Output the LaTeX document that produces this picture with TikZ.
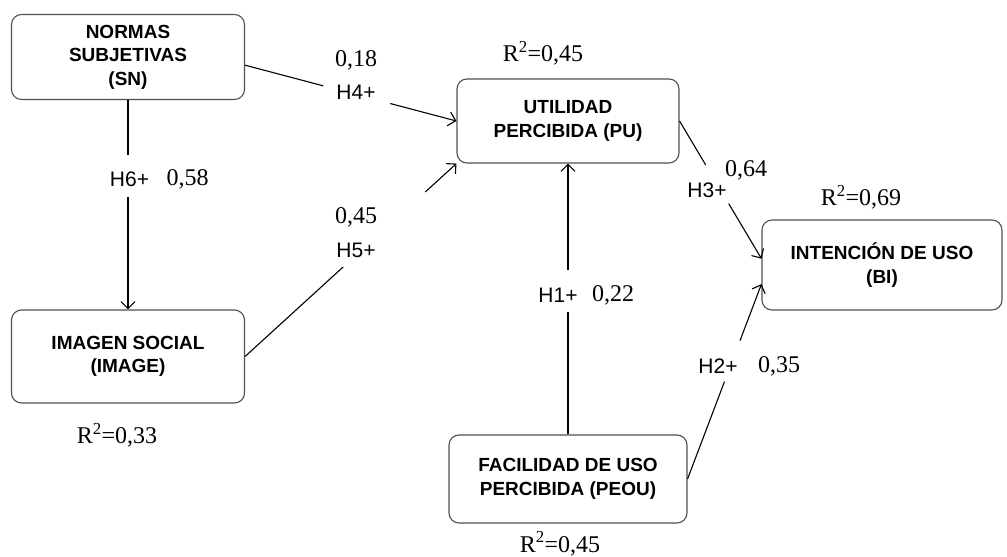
\documentclass[tikz,border=0pt]{standalone}
\usepackage{fontspec}
\setmainfont{Liberation Serif}
\setsansfont{Liberation Sans}
\usetikzlibrary{arrows.meta,calc}
\definecolor{boxgray}{RGB}{80,80,80}

\begin{document}
\begin{tikzpicture}[x=1pt,y=-1pt,
  construct/.style={rectangle,rounded corners=10pt,draw=boxgray,line width=1.1pt,align=center,inner sep=0pt,font=\sffamily\bfseries\fontsize{19}{23.5}\selectfont},
  hyp/.style={inner sep=0pt,font=\sffamily\fontsize{21}{24}\selectfont},
  coef/.style={inner sep=0pt,font=\fontsize{24}{26}\selectfont},
  link/.style={line width=1.1pt},
  arrow/.style={link,-{Straight Barb[length=7pt,width=14pt]}}]
  \useasboundingbox (0,0) rectangle (1007,557);
  \node[construct,minimum width=233pt,minimum height=85pt] (sn) at (128,57) {NORMAS\\SUBJETIVAS\\(SN)};
  \node[construct,minimum width=233pt,minimum height=93pt] (image) at (128,356.5) {IMAGEN SOCIAL\\(IMAGE)};
  \node[construct,minimum width=222pt,minimum height=84pt] (pu) at (568,121) {UTILIDAD\\PERCIBIDA (PU)};
  \node[construct,minimum width=240pt,minimum height=90pt] (bi) at (882,265) {INTENCIÓN DE USO\\(BI)};
  \node[construct,minimum width=238pt,minimum height=88pt] (peou) at (568,479) {FACILIDAD DE USO\\PERCIBIDA (PEOU)};
  \node[coef] (r2pu) at (543,53) {R\textsuperscript{2}=0,45};
  \node[coef] (r2bi) at (861,197) {R\textsuperscript{2}=0,69};
  \node[coef] (r2image) at (117,435) {R\textsuperscript{2}=0,33};
  \node[coef,anchor=base] (r2peou) at (560,552) {R\textsuperscript{2}=0,45};
  \node[coef] (c4) at (356,60) {0,18}; \node[hyp] (h4) at (356,92) {H4+};
  \node[coef] (c5) at (356,217) {0,45}; \node[hyp] (h5) at (356,250) {H5+};
  \node[hyp] (h6) at (129.5,179) {H6+}; \node[coef] (c6) at (187.5,179) {0,58};
  \node[hyp] (h1) at (558,295) {H1+}; \node[coef] (c1) at (613,295) {0,22};
  \node[hyp] (h3) at (707,190) {H3+}; \node[coef] (c3) at (746,170) {0,64};
  \node[hyp] (h2) at (718,366) {H2+}; \node[coef] (c2) at (779,366) {0,35};
  \coordinate (g4a) at ($(sn.-4.4)!0.37!(pu.west)$); \coordinate (g4b) at ($(sn.-4.4)!0.687!(pu.west)$);
  \coordinate (g5a) at ($(image.east)!0.464!(pu.south west)$); \coordinate (g5b) at ($(image.east)!0.853!(pu.south west)$);
  \coordinate (g6a) at ($(sn.south)!0.262!(image.north)$); \coordinate (g6b) at ($(sn.south)!0.462!(image.north)$);
  \coordinate (g1a) at ($(peou.north)!0.452!(pu.south)$); \coordinate (g1b) at ($(peou.north)!0.607!(pu.south)$);
  \coordinate (g3a) at ($(pu.east)!0.32!(bi.177)$); \coordinate (g3b) at ($(pu.east)!0.6!(bi.177)$);
  \coordinate (g2a) at ($(peou.east)!0.5!(bi.189)$); \coordinate (g2b) at ($(peou.east)!0.71!(bi.189)$);
  \draw[link] (sn.-4.4)--(g4a); \draw[arrow] (g4b)--(pu.west);
  \draw[link] (image.east)--(g5a); \draw[arrow] (g5b)--(pu.south west);
  \draw[link] (sn.south)--(g6a); \draw[arrow] (g6b)--(image.north);
  \draw[link] (peou.north)--(g1a); \draw[arrow] (g1b)--(pu.south);
  \draw[link] (pu.east)--(g3a); \draw[arrow] (g3b)--(bi.177);
  \draw[link] (peou.east)--(g2a); \draw[arrow] (g2b)--(bi.189);
\end{tikzpicture}
\end{document}
